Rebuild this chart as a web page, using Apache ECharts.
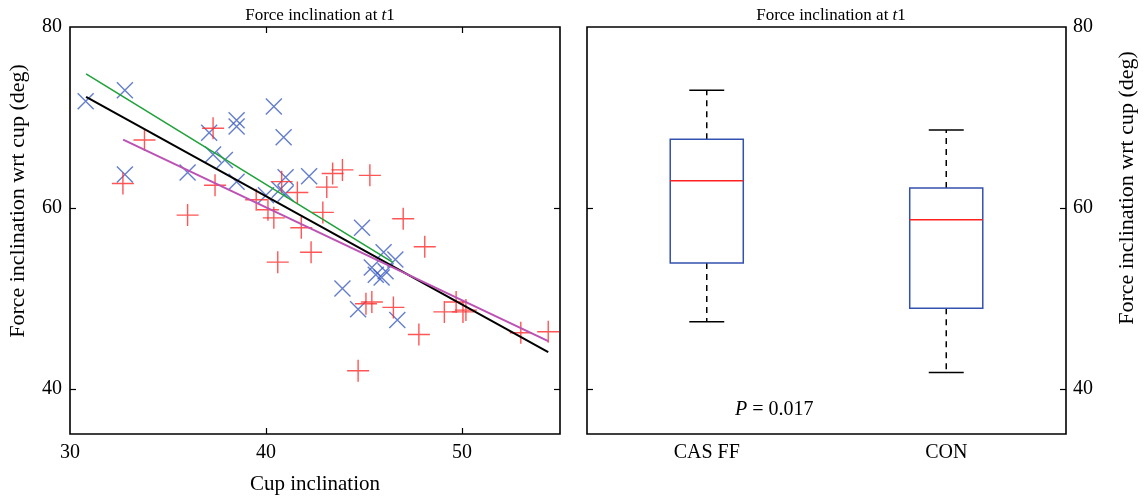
<!DOCTYPE html>
<html>
<head>
<meta charset="utf-8">
<script src="https://cdn.jsdelivr.net/npm/echarts@6/dist/echarts.min.js"></script>
<style>html,body{margin:0;padding:0;background:#fff}#c{width:1146px;height:500px}</style>
</head>
<body>
<div id="c"></div>
<script>
// ---- data ----
const casX = [30.8, 32.8, 32.8, 36.0, 37.1, 37.3, 37.9, 38.5, 38.5, 38.5, 40.4, 40.9, 41.0, 42.2, 40.0, 40.7, 41.0, 43.9, 44.7, 44.9, 46.0, 46.6, 45.4, 45.9, 46.1, 45.6, 46.7];
const casY = [71.8, 73.0, 63.7, 63.9, 68.3, 65.9, 65.3, 69.7, 69.0, 62.9, 71.2, 67.8, 63.4, 63.5, 61.4, 62.0, 61.6, 51.1, 48.8, 57.8, 55.1, 54.3, 53.4, 52.3, 53.0, 52.6, 47.6];
const conX = [32.7, 33.8, 36.0, 37.3, 37.4, 39.5, 40.1, 40.4, 40.8, 40.6, 41.6, 41.8, 42.3, 42.9, 43.1, 43.4, 43.9, 45.3, 47.0, 48.1, 44.7, 45.1, 45.4, 46.5, 47.8, 49.1, 49.7, 50.05, 50.2, 53.0, 54.4];
const conY = [62.7, 67.5, 59.2, 68.8, 62.5, 60.9, 59.8, 58.9, 62.9, 54.0, 61.7, 57.8, 55.1, 59.5, 62.3, 63.8, 64.2, 63.6, 58.8, 55.7, 42.0, 49.4, 49.6, 49.0, 46.0, 48.5, 49.6, 48.5, 48.7, 46.2, 46.3];
const fitAllX = [30.82, 54.40], fitAllY = [72.28, 44.06];
const fitCasX = [30.82, 46.47], fitCasY = [74.82, 53.98];
const fitConX = [32.71, 54.40], fitConY = [67.54, 45.27];
const groups = ['CAS FF', 'CON'];
const boxLow  = [47.4, 41.8];
const boxQ1   = [53.9, 48.9];
const boxMed  = [63.0, 58.7];
const boxQ3   = [67.6, 62.2];
const boxHigh = [73.0, 68.6];
const yTicks = [40, 60, 80];
const xTicks = [30, 40, 50];
const titleText = '{a|Force inclination at }{i|t}{a|1}';
const yName = 'Force inclination wrt cup (deg)';
const xName = 'Cup inclination';
const pText = '{i|P} = 0.017';

// ---- build ----
const zip = (a, b) => a.map((v, i) => [v, b[i]]);
const FONT = 'Liberation Serif';
const BLUE = '#3d5ec0', RED = '#ff2a2a';
const TS = 20; // tick label size
const NS = 21; // x axis name size
const YNS = 22; // y axis name size
const txt = { fontFamily: FONT, fontSize: TS, color: '#000' };
const titleStyle = {
  fontFamily: FONT, fontSize: 17, fontWeight: 'normal', color: '#000',
  rich: { a: { fontFamily: FONT, fontSize: 17, color: '#000' }, i: { fontFamily: FONT, fontSize: 17, fontStyle: 'italic', color: '#000' } }
};
const boxData = groups.map((g, i) => [i, boxLow[i], boxQ1[i], boxMed[i], boxQ3[i], boxHigh[i]]);

function renderBox(params, api) {
  const i = api.value(0);
  const lo = api.coord([i, api.value(1)]);
  const q1 = api.coord([i, api.value(2)]);
  const md = api.coord([i, api.value(3)]);
  const q3 = api.coord([i, api.value(4)]);
  const hi = api.coord([i, api.value(5)]);
  const band = api.size([1, 0])[0];
  const bw = band * 0.305, cw = band * 0.146, cx = lo[0];
  const black = { stroke: '#000', lineWidth: 1.5 };
  return {
    type: 'group',
    children: [
      { type: 'line', shape: { x1: cx, y1: q3[1], x2: cx, y2: hi[1] }, style: Object.assign({ lineDash: [6, 5] }, black) },
      { type: 'line', shape: { x1: cx, y1: q1[1], x2: cx, y2: lo[1] }, style: Object.assign({ lineDash: [6, 5] }, black) },
      { type: 'line', shape: { x1: cx - cw / 2, y1: hi[1], x2: cx + cw / 2, y2: hi[1] }, style: black },
      { type: 'line', shape: { x1: cx - cw / 2, y1: lo[1], x2: cx + cw / 2, y2: lo[1] }, style: black },
      { type: 'rect', shape: { x: cx - bw / 2, y: q3[1], width: bw, height: q1[1] - q3[1] }, style: { fill: 'none', stroke: '#3352b0', lineWidth: 1.5 } },
      { type: 'line', shape: { x1: cx - bw / 2, y1: md[1], x2: cx + bw / 2, y2: md[1] }, style: { stroke: '#ff2020', lineWidth: 1.5 } }
    ]
  };
}

const inTick = (vals) => ({ show: true, inside: true, length: 6, customValues: vals, lineStyle: { color: '#000', width: 1.2 } });

const option = {
  animation: false,
  backgroundColor: '#fff',
  title: [
    { text: titleText, left: 315, top: 2, textAlign: 'center', textStyle: titleStyle },
    { text: titleText, left: 826, top: 2, textAlign: 'center', textStyle: titleStyle }
  ],
  grid: [
    { left: 70, top: 27, width: 490, height: 407, show: true, borderColor: '#000', borderWidth: 1.6, backgroundColor: 'transparent' },
    { left: 587, top: 27, width: 479, height: 407, show: true, borderColor: '#000', borderWidth: 1.6, backgroundColor: 'transparent' }
  ],
  xAxis: [
    { type: 'value', gridIndex: 0, min: 30, max: 55, position: 'bottom',
      axisLine: { show: false }, splitLine: { show: false },
      axisTick: inTick([40, 50]),
      axisLabel: Object.assign({ customValues: xTicks, margin: 9 }, txt),
      name: xName, nameLocation: 'middle', nameGap: 40, nameTextStyle: { fontFamily: FONT, fontSize: NS, color: '#000' } },
    { type: 'value', gridIndex: 0, min: 30, max: 55, position: 'top',
      axisLine: { show: false }, splitLine: { show: false },
      axisTick: inTick([40, 50]), axisLabel: { show: false } },
    { type: 'category', gridIndex: 1, data: groups, boundaryGap: true,
      axisLine: { show: false }, axisTick: { show: false }, splitLine: { show: false },
      axisLabel: Object.assign({ margin: 9 }, txt) }
  ],
  yAxis: [
    { type: 'value', gridIndex: 0, min: 35, max: 80, position: 'left',
      axisLine: { show: false }, splitLine: { show: false },
      axisTick: inTick([40, 60]),
      axisLabel: Object.assign({ customValues: yTicks, margin: 8 }, txt) },
    { type: 'value', gridIndex: 0, min: 35, max: 80, position: 'right',
      axisLine: { show: false }, splitLine: { show: false },
      axisTick: inTick([40, 60]), axisLabel: { show: false } },
    { type: 'value', gridIndex: 1, min: 35, max: 80, position: 'left',
      axisLine: { show: false }, splitLine: { show: false },
      axisTick: inTick([40, 60]), axisLabel: { show: false } },
    { type: 'value', gridIndex: 1, min: 35, max: 80, position: 'right',
      axisLine: { show: false }, splitLine: { show: false },
      axisTick: inTick([40, 60]),
      axisLabel: Object.assign({ customValues: yTicks, margin: 7 }, txt) }
  ],
  series: [
    { type: 'scatter', xAxisIndex: 0, yAxisIndex: 0, data: zip(casX, casY),
      symbol: 'path://M0,0L20,20M20,0L0,20', symbolSize: 16, silent: true,
      itemStyle: { color: 'rgba(0,0,0,0)', borderColor: BLUE, borderWidth: 1.4 } },
    { type: 'scatter', xAxisIndex: 0, yAxisIndex: 0, data: zip(conX, conY),
      symbol: 'path://M10,0L10,20M0,10L20,10', symbolSize: 22, silent: true,
      itemStyle: { color: 'rgba(0,0,0,0)', borderColor: RED, borderWidth: 1.4 } },
    { type: 'line', xAxisIndex: 0, yAxisIndex: 0, data: zip(fitAllX, fitAllY), symbol: 'none', silent: true,
      lineStyle: { color: '#000', width: 2 } },
    { type: 'line', xAxisIndex: 0, yAxisIndex: 0, data: zip(fitCasX, fitCasY), symbol: 'none', silent: true,
      lineStyle: { color: '#1fa23a', width: 1.6 } },
    { type: 'line', xAxisIndex: 0, yAxisIndex: 0, data: zip(fitConX, fitConY), symbol: 'none', silent: true,
      lineStyle: { color: '#bb52b4', width: 2 } },
    { type: 'custom', xAxisIndex: 2, yAxisIndex: 3, data: boxData, renderItem: renderBox, silent: true }
  ],
  graphic: [
    { type: 'text', x: 18, y: 201, rotation: Math.PI / 2,
      style: { text: yName, fontFamily: FONT, fontSize: YNS, fill: '#000', align: 'center', verticalAlign: 'middle' } },
    { type: 'text', x: 1127, y: 188, rotation: Math.PI / 2,
      style: { text: yName, fontFamily: FONT, fontSize: YNS, fill: '#000', align: 'center', verticalAlign: 'middle' } },
    { type: 'text', x: 735, y: 410,
      style: { text: pText, fontFamily: FONT, fontSize: 20, fill: '#000', align: 'left', verticalAlign: 'middle',
        rich: { i: { fontFamily: FONT, fontSize: 20, fontStyle: 'italic', fill: '#000' } } } }
  ]
};
const chart = echarts.init(document.getElementById('c'), null, { renderer: 'canvas' });
chart.setOption(option);
</script>
</body>
</html>
